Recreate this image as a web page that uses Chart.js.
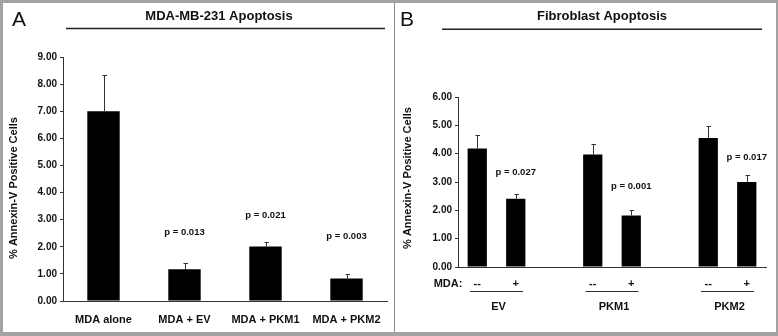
<!DOCTYPE html>
<html>
<head>
<meta charset="utf-8">
<script src="https://cdn.jsdelivr.net/npm/chart.js@4.4.1/dist/chart.umd.min.js"></script>
<style>
  html, body { margin: 0; padding: 0; }
  body { width: 778px; height: 336px; background: #a3a3a3; position: relative; overflow: hidden; }
  #panel { position: absolute; left: 3px; top: 3px; width: 773px; height: 329px; background: #fff; }
  #sep { position: absolute; left: 394px; top: 3px; width: 1px; height: 329px; background: #8a8a8a; }
  #cA { position: absolute; left: 3px; top: 3px; }
  #cB { position: absolute; left: 395px; top: 3px; }
</style>
</head>
<body>
<div id="panel"></div>
<div id="sep"></div>
<canvas id="cA" width="390" height="329"></canvas>
<canvas id="cB" width="381" height="329"></canvas>
<script>
// ---- Panel A data ----
const categoriesA = ['MDA alone', 'MDA + EV', 'MDA + PKM1', 'MDA + PKM2'];
const valuesA = [7.0, 1.17, 2.01, 0.83];
const errorsA = [1.35, 0.24, 0.17, 0.17];
const pTextA = [null, 'p = 0.013', 'p = 0.021', 'p = 0.003'];
const pLevelA = [null, 2.52, 3.15, 2.39];
const ticksA = [0, 1, 2, 3, 4, 5, 6, 7, 8, 9];

// ---- Panel B data ----
const mdaLabelsB = ['--', '+', '', '--', '+', '', '--', '+'];
const groupsB = ['EV', 'PKM1', 'PKM2'];
const valuesB = [4.18, 2.41, null, 3.97, 1.82, null, 4.55, 3.00];
const errorsB = [0.49, 0.17, null, 0.38, 0.19, null, 0.42, 0.25];
const pTextB = [null, 'p = 0.027', null, null, 'p = 0.001', null, null, 'p = 0.017'];
const pLevelB = [null, 3.35, null, null, 2.86, null, null, 3.88];
const ticksB = [0, 1, 2, 3, 4, 5, 6];

const FONT = '"Liberation Sans", Arial, Helvetica, sans-serif';
const INK = '#111';

function drawErrorBars(chart, values, errors) {
  const ctx = chart.ctx, xs = chart.scales.x, ys = chart.scales.y;
  ctx.save();
  ctx.strokeStyle = '#333';
  ctx.lineWidth = 1;
  values.forEach((v, i) => {
    if (v == null || errors[i] == null) return;
    const x = Math.round(xs.getPixelForValue(i)) + 0.5;
    const y0 = ys.getPixelForValue(v);
    const y1 = Math.round(ys.getPixelForValue(v + errors[i])) + 0.5;
    ctx.beginPath();
    ctx.moveTo(x, y0);
    ctx.lineTo(x, y1);
    ctx.moveTo(x - 2, y1);
    ctx.lineTo(x + 2.5, y1);
    ctx.stroke();
  });
  ctx.restore();
}

function drawPLabels(chart, texts, levels) {
  const ctx = chart.ctx, xs = chart.scales.x, ys = chart.scales.y;
  ctx.save();
  ctx.fillStyle = INK;
  ctx.font = 'bold 9.5px ' + FONT;
  ctx.textAlign = 'center';
  ctx.textBaseline = 'middle';
  texts.forEach((t, i) => {
    if (!t) return;
    ctx.fillText(t, xs.getPixelForValue(i), ys.getPixelForValue(levels[i]));
  });
  ctx.restore();
}

function drawHeader(ctx, letter, letterX, title, titleX, lineX0, lineX1, lineY, yTitleX, yTitleY) {
  ctx.save();
  ctx.fillStyle = INK;
  ctx.font = '21px ' + FONT;
  ctx.textAlign = 'left';
  ctx.textBaseline = 'alphabetic';
  ctx.fillText(letter, letterX, 23);
  ctx.font = 'bold 13px ' + FONT;
  ctx.textAlign = 'center';
  ctx.textBaseline = 'middle';
  ctx.fillText(title, titleX, 13);
  ctx.strokeStyle = '#222';
  ctx.lineWidth = 1.5;
  ctx.beginPath();
  ctx.moveTo(lineX0, lineY);
  ctx.lineTo(lineX1, lineY);
  ctx.stroke();
  ctx.translate(yTitleX, yTitleY);
  ctx.rotate(-Math.PI / 2);
  ctx.font = 'bold 11px ' + FONT;
  ctx.fillText('% Annexin-V Positive Cells', 0, 0);
  ctx.restore();
}

function yScale(max, ticks, width) {
  return {
    min: 0, max: max,
    afterBuildTicks: s => { s.ticks = ticks.map(v => ({ value: v })); },
    afterFit: s => { s.width = width; },
    grid: { display: true, drawOnChartArea: false, drawTicks: true, tickLength: 3, color: '#333' },
    border: { display: true, color: '#333', width: 1 },
    ticks: { color: INK, padding: 3, font: { family: FONT, size: 10, weight: 'bold' },
      callback: v => Number(v).toFixed(2) }
  };
}

const common = {
  responsive: false,
  animation: false,
  devicePixelRatio: 1,
  plugins: { legend: { display: false }, tooltip: { enabled: false }, title: { display: false } }
};

new Chart(document.getElementById('cA'), {
  type: 'bar',
  data: {
    labels: categoriesA,
    datasets: [{ data: valuesA, backgroundColor: '#000', borderWidth: 0,
      categoryPercentage: 1, barPercentage: 0.4 }]
  },
  options: Object.assign({}, common, {
    layout: { padding: { left: 0, right: 6, top: 54, bottom: 0 } },
    scales: {
      x: {
        afterFit: s => { s.height = 31; },
        grid: { display: false },
        border: { display: true, color: '#333', width: 1 },
        ticks: { color: INK, padding: 4, font: { family: FONT, size: 11, weight: 'bold' } }
      },
      y: yScale(9, ticksA, 60)
    }
  }),
  plugins: [{
    id: 'annotA',
    afterDatasetsDraw(chart) {
      drawErrorBars(chart, valuesA, errorsA);
      drawPLabels(chart, pTextA, pLevelA);
      drawHeader(chart.ctx, 'A', 9, 'MDA-MB-231 Apoptosis', 216, 63, 382, 25.5, 11, 185);
    }
  }]
});

new Chart(document.getElementById('cB'), {
  type: 'bar',
  data: {
    labels: mdaLabelsB,
    datasets: [{ data: valuesB, backgroundColor: '#000', borderWidth: 0,
      categoryPercentage: 1, barPercentage: 0.5 }]
  },
  options: Object.assign({}, common, {
    layout: { padding: { left: 0, right: 10, top: 94, bottom: 0 } },
    scales: {
      x: {
        afterFit: s => { s.height = 65; },
        grid: { display: false },
        border: { display: true, color: '#333', width: 1 },
        ticks: { color: INK, padding: 2, autoSkip: false, maxRotation: 0,
          font: { family: FONT, size: 11, weight: 'bold' } }
      },
      y: yScale(6, ticksB, 63)
    }
  }),
  plugins: [{
    id: 'annotB',
    afterDatasetsDraw(chart) {
      drawErrorBars(chart, valuesB, errorsB);
      drawPLabels(chart, pTextB, pLevelB);
      drawHeader(chart.ctx, 'B', 5, 'Fibroblast Apoptosis', 207, 47, 367, 26.3, 13, 175);
      const ctx = chart.ctx, xs = chart.scales.x;
      const axisY = chart.scales.y.getPixelForValue(0);
      ctx.save();
      ctx.fillStyle = INK;
      ctx.font = 'bold 11px ' + FONT;
      ctx.textAlign = 'center';
      ctx.textBaseline = 'middle';
      ctx.fillText('MDA:', 53, axisY + 16.5);
      ctx.strokeStyle = '#333';
      ctx.lineWidth = 1;
      groupsB.forEach((g, k) => {
        const mid = (xs.getPixelForValue(k * 3) + xs.getPixelForValue(k * 3 + 1)) / 2;
        ctx.beginPath();
        ctx.moveTo(mid - 26.5, axisY + 24.5);
        ctx.lineTo(mid + 26.5, axisY + 24.5);
        ctx.stroke();
        ctx.fillText(g, mid + 2, axisY + 39.5);
      });
      ctx.restore();
    }
  }]
});
</script>
</body>
</html>
